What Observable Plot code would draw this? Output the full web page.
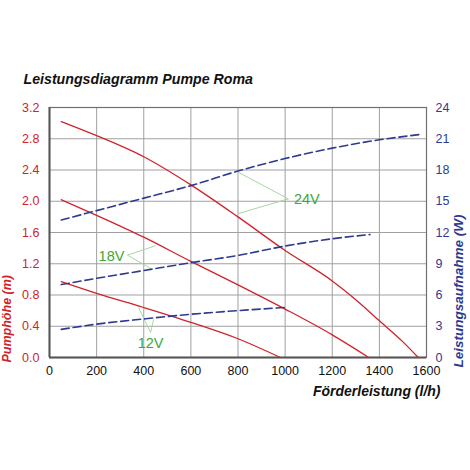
<!DOCTYPE html>
<html lang="de">
<head>
<meta charset="utf-8">
<title>Leistungsdiagramm Pumpe Roma</title>
<script src="https://cdn.jsdelivr.net/npm/d3@7"></script>
<script src="https://cdn.jsdelivr.net/npm/@observablehq/plot@0.6"></script>
<style>
  body { margin: 0; background: #fff; }
  #graphic svg { display: block; }
</style>
</head>
<body>
<div id="graphic"></div>
<script>
  // Förderleistung (l/h) and Pumphöhe (m) for each voltage
  const headFlow24 = [50, 200, 400, 600, 800, 1000, 1200, 1300, 1400, 1500, 1565];
  const head24     = [3.02, 2.84, 2.57, 2.21, 1.80, 1.37, 0.98, 0.74, 0.47, 0.20, 0];
  const headFlow18 = [50, 200, 400, 600, 800, 1000, 1200, 1355];
  const head18     = [2.02, 1.82, 1.54, 1.23, 0.93, 0.62, 0.29, 0];
  const headFlow12 = [50, 200, 400, 600, 800, 980];
  const head12     = [0.97, 0.82, 0.64, 0.45, 0.24, 0];

  // Leistungsaufnahme (W)
  const powerFlow24 = [50, 200, 400, 600, 800, 1000, 1200, 1400, 1570];
  const power24     = [13.2, 14.1, 15.3, 16.5, 17.9, 19.1, 20.1, 20.9, 21.4];
  const powerFlow18 = [50, 200, 400, 600, 800, 1000, 1200, 1360];
  const power18     = [7.0, 7.6, 8.35, 9.1, 9.8, 10.7, 11.4, 11.8];
  const powerFlow12 = [50, 200, 400, 600, 800, 1000];
  const power12     = [2.7, 3.2, 3.7, 4.15, 4.5, 4.8];

  // voltage labels: text position, leader start, and the two leader targets (l/h, m)
  const labels  = ["24V", "18V", "12V"];
  const textX   = [1092, 263, 429];
  const textY   = [2.03, 1.29, 0.18];
  const labelX  = [1014, 331, 429];
  const labelY  = [2.03, 1.31, 0.32];
  const tipX1   = [802, 450, 378];
  const tipY1   = [2.37, 1.43, 0.64];
  const tipX2   = [798, 429, 442];
  const tipY2   = [1.84, 1.14, 0.49];

  const xTicks = [0, 200, 400, 600, 800, 1000, 1200, 1400, 1600];
  const yTicks = [0, 0.4, 0.8, 1.2, 1.6, 2.0, 2.4, 2.8, 3.2];
  const wPerM = 24 / 3.2; // right axis 0..24 W over 0..3.2 m

  const red = "#d0232b";
  const blue = "#2e3a8f";
  const green = "#3aa935";

  const headRows = [];
  [[headFlow24, head24, "24"], [headFlow18, head18, "18"], [headFlow12, head12, "12"]]
    .forEach(([xs, ys, v]) => xs.forEach((x, i) => headRows.push({v, x, y: ys[i]})));
  const powerRows = [];
  [[powerFlow24, power24, "24"], [powerFlow18, power18, "18"], [powerFlow12, power12, "12"]]
    .forEach(([xs, ys, v]) => xs.forEach((x, i) => powerRows.push({v, x, y: ys[i] / wPerM})));

  const leaders = [];
  labels.forEach((l, i) => {
    leaders.push({x1: labelX[i], y1: labelY[i], x2: tipX1[i], y2: tipY1[i]});
    leaders.push({x1: labelX[i], y1: labelY[i], x2: tipX2[i], y2: tipY2[i]});
  });
  const labelRows = labels.map((l, i) => ({l, x: textX[i], y: textY[i]}));

  const font = "'Liberation Sans', Arial, sans-serif";

  const chart = Plot.plot({
    width: 470,
    height: 470,
    marginTop: 107,
    marginBottom: 113,
    marginLeft: 49,
    marginRight: 44,
    style: {fontFamily: font, fontSize: "12px", background: "#fff"},
    x: {domain: [0, 1600], label: null},
    y: {domain: [0, 3.2], label: null},
    marks: [
      Plot.gridX(xTicks, {stroke: "#a0a0a0", strokeOpacity: 1}),
      Plot.gridY(yTicks, {stroke: "#a0a0a0", strokeOpacity: 1}),
      Plot.frame({stroke: "#707070", strokeWidth: 1.2}),
      Plot.ruleX([0], {stroke: "#555", strokeWidth: 2}),
      Plot.ruleY([0], {stroke: "#555", strokeWidth: 2}),
      Plot.axisX({ticks: xTicks, tickSize: 0, tickPadding: 9, tickFormat: d => String(d), fill: "#111", fontSize: 12.5}),
      Plot.axisY({anchor: "left", ticks: yTicks, tickSize: 0, tickPadding: 10,
        tickFormat: d3.format(".1f"), color: red, fontSize: 12.5}),
      Plot.axisY({anchor: "right", ticks: yTicks, tickSize: 0, tickPadding: 9,
        tickFormat: d => String(Math.round(d * wPerM)), color: blue, fontSize: 12.5}),
      Plot.link(leaders, {x1: "x1", y1: "y1", x2: "x2", y2: "y2", stroke: "#a9d6a2", strokeWidth: 1}),
      Plot.line(headRows, {x: "x", y: "y", z: "v", stroke: red, strokeWidth: 1.3, curve: "monotone-x"}),
      Plot.line(powerRows, {x: "x", y: "y", z: "v", stroke: blue, strokeWidth: 1.6,
        strokeDasharray: "8,4", curve: "monotone-x"}),
      Plot.text(labelRows, {x: "x", y: "y", text: "l", fill: green, fontSize: 14.5}),
      Plot.text(["Leistungsdiagramm Pumpe Roma"], {frameAnchor: "top-left", dx: -26, dy: -34,
        textAnchor: "start", fontSize: 14.2, fontWeight: "bold", fontStyle: "italic", fill: "#111"}),
      Plot.text(["Förderleistung (l/h)"], {frameAnchor: "bottom-right", dx: 14, dy: 38,
        textAnchor: "end", fontSize: 14, fontWeight: "bold", fontStyle: "italic", fill: "#111"}),
      Plot.text(["Pumphöhe (m)"], {frameAnchor: "bottom-left", dx: -39, dy: 5, rotate: -90,
        textAnchor: "start", fontSize: 12.5, fontWeight: "bold", fontStyle: "italic", fill: red}),
      Plot.text(["Leistungsaufnahme (W)"], {frameAnchor: "bottom-right", dx: 36, dy: 10, rotate: -90,
        textAnchor: "start", fontSize: 13.5, fontWeight: "bold", fontStyle: "italic", fill: blue})
    ]
  });
  document.getElementById("graphic").appendChild(chart);
</script>
</body>
</html>
